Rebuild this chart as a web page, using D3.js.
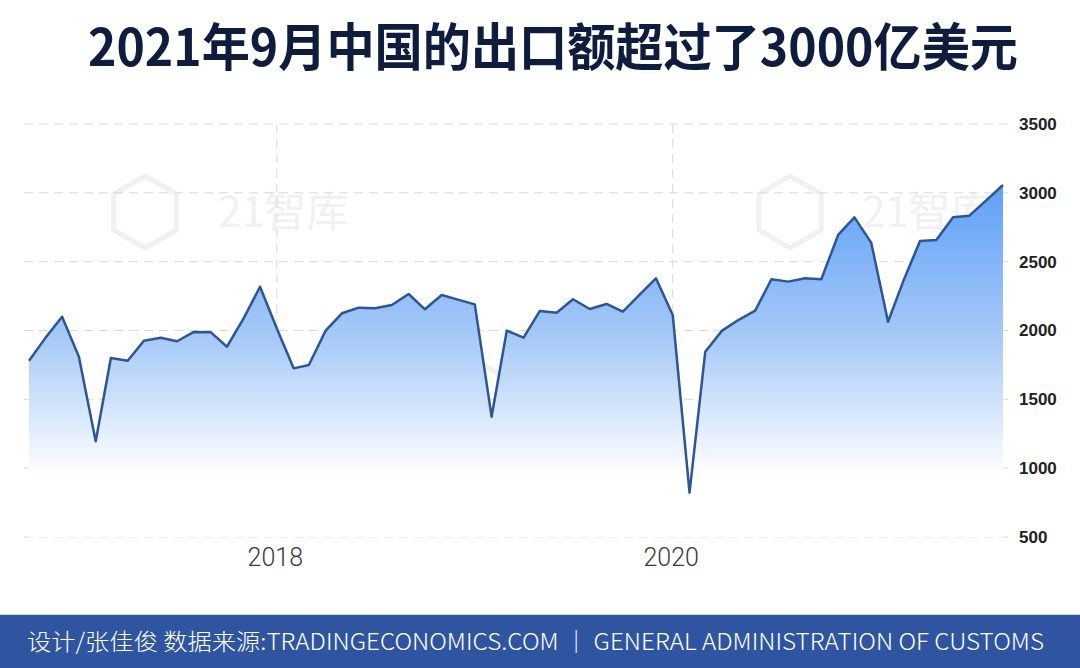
<!DOCTYPE html>
<html>
<head>
<meta charset="utf-8">
<script src="https://cdn.jsdelivr.net/npm/d3@7"></script>
<style>
  html, body { margin: 0; padding: 0; background: #fff; }
  svg { display: block; }
</style>
</head>
<body>
<div class="canvas"></div>
<script>
// monthly exports, 亿美元, Oct 2016 .. Sep 2021
const startMonth = [2016, 9];
const exportValues = [
  1781, 1950, 2100,
  1810, 1195, 1800, 1780, 1925, 1948, 1922, 1990, 1988, 1882, 2090, 2318,
  2015, 1725, 1749, 1999, 2125, 2166, 2161, 2185, 2265, 2154, 2258, 2224,
  2190, 1374, 1999, 1948, 2142, 2129, 2227, 2156, 2193, 2137, 2260, 2379,
  2113, 822, 1846, 1999, 2076, 2144, 2372, 2355, 2379, 2372, 2694, 2822,
  2638, 2064, 2357, 2650, 2657, 2822, 2834, 2945, 3057
];
const yTicks = [500, 1000, 1500, 2000, 2500, 3000, 3500];
const xTickYears = [2018, 2020];
const titleText = "2021年9月中国的出口额超过了3000亿美元";
const footerText = "设计/张佳俊  数据来源:TRADINGECONOMICS.COM ｜ GENERAL ADMINISTRATION OF CUSTOMS";
const watermarkText = "21智库";

const data = exportValues.map((v, i) => ({
  date: new Date(startMonth[0], startMonth[1] + i, 1),
  value: v
}));

const dims = { width: 1080, height: 668 };
const svg = d3.select(".canvas").append("svg")
  .attr("width", dims.width)
  .attr("height", dims.height);

const x = d3.scaleTime()
  .domain([data[0].date, data[data.length - 1].date])
  .range([29, 1003]);
const y = d3.scaleLinear().domain([500, 3500]).range([537, 124]);

// title
svg.append("text")
  .attr("x", 88).attr("y", 66)
  .attr("textLength", 930)
  .attr("lengthAdjust", "spacingAndGlyphs")
  .style("font-family", "'Noto Sans CJK SC', sans-serif")
  .style("font-weight", 700)
  .style("font-size", "51px")
  .attr("fill", "#0e1d3d")
  .text(titleText);

// watermarks
const marks = [[145, 212, 218], [790, 212, 862], [468, 392, 540]];
const hex = d3.range(6).map(k => {
  const a = Math.PI / 6 + k * Math.PI / 3;
  return [Math.cos(a), Math.sin(a)];
});
marks.forEach(([cx, cy, tx]) => {
  svg.append("path")
    .attr("d", d3.line()(hex.map(p => [cx + p[0] * 36, cy + p[1] * 36])) + "Z")
    .attr("fill", "none").attr("stroke", "#f1f1f1").attr("stroke-width", 5);
  svg.append("text")
    .attr("x", tx).attr("y", cy + 15)
    .style("font-family", "'Noto Sans CJK SC', sans-serif")
    .style("font-size", "42px")
    .attr("fill", "#f1f1f1")
    .text(watermarkText);
});

// grid
const grid = svg.append("g");
grid.selectAll("line.h").data(yTicks).enter().append("line")
  .attr("x1", 24).attr("x2", 1008)
  .attr("y1", d => y(d)).attr("y2", d => y(d))
  .attr("stroke", "#d9d9d9").attr("stroke-width", 1)
  .attr("stroke-dasharray", "9,6");
grid.selectAll("line.v").data(xTickYears).enter().append("line")
  .attr("x1", d => x(new Date(d, 0, 1))).attr("x2", d => x(new Date(d, 0, 1)))
  .attr("y1", y(3500)).attr("y2", y(500))
  .attr("stroke", "#d9d9d9").attr("stroke-width", 1)
  .attr("stroke-dasharray", "9,6");

// gradient
const grad = svg.append("defs").append("linearGradient")
  .attr("id", "fillGrad")
  .attr("gradientUnits", "userSpaceOnUse")
  .attr("x1", 0).attr("x2", 0)
  .attr("y1", y(3100)).attr("y2", y(950));
grad.append("stop").attr("offset", 0).attr("stop-color", "#5c9ef6");
grad.append("stop").attr("offset", 0.55).attr("stop-color", "#a9cbf8");
grad.append("stop").attr("offset", 1).attr("stop-color", "#ffffff");

const area = d3.area()
  .x(d => x(d.date))
  .y0(y(500))
  .y1(d => y(d.value));
const line = d3.line()
  .x(d => x(d.date))
  .y(d => y(d.value));

svg.append("path").datum(data)
  .attr("d", area)
  .attr("fill", "url(#fillGrad)");
svg.append("path").datum(data)
  .attr("d", line)
  .attr("fill", "none")
  .attr("stroke", "#2e5596")
  .attr("stroke-width", 2.5)
  .attr("stroke-linejoin", "round");

// y axis (right)
const yAxis = d3.axisRight(y).tickValues(yTicks).tickFormat(d3.format("d"))
  .tickSize(0).tickPadding(0);
svg.append("g")
  .attr("transform", "translate(1019,0)")
  .call(yAxis)
  .call(g => g.select(".domain").remove())
  .call(g => g.selectAll("text")
    .style("font-family", "'Liberation Sans', Arial, sans-serif")
    .style("font-weight", 700)
    .style("font-size", "17px")
    .attr("fill", "#222"));

// x axis
const xAxis = d3.axisBottom(x)
  .tickValues(xTickYears.map(d => new Date(d, 0, 1)))
  .tickFormat(d3.timeFormat("%Y"))
  .tickSize(0).tickPadding(0);
svg.append("g")
  .attr("transform", "translate(-2,548)")
  .call(xAxis)
  .call(g => g.select(".domain").remove())
  .call(g => g.selectAll("text")
    .style("font-family", "Roboto, 'Liberation Sans', sans-serif")
    .style("font-weight", 300)
    .style("font-size", "25px")
    .attr("fill", "#3a3a3a"));

// footer
svg.append("rect")
  .attr("x", 0).attr("y", 615)
  .attr("width", dims.width).attr("height", dims.height - 615)
  .attr("fill", "#2f55a1");
svg.append("line")
  .attr("x1", 0).attr("x2", dims.width)
  .attr("y1", 614.5).attr("y2", 614.5)
  .attr("stroke", "#c9d3e6");
svg.append("text")
  .attr("x", 27).attr("y", 650)
  .attr("textLength", 1017)
  .attr("lengthAdjust", "spacingAndGlyphs")
  .style("font-family", "'Noto Sans CJK SC', sans-serif")
  .style("font-weight", 300)
  .style("font-size", "23px")
  .attr("fill", "#ffffff")
  .text(footerText);
</script>
</body>
</html>
